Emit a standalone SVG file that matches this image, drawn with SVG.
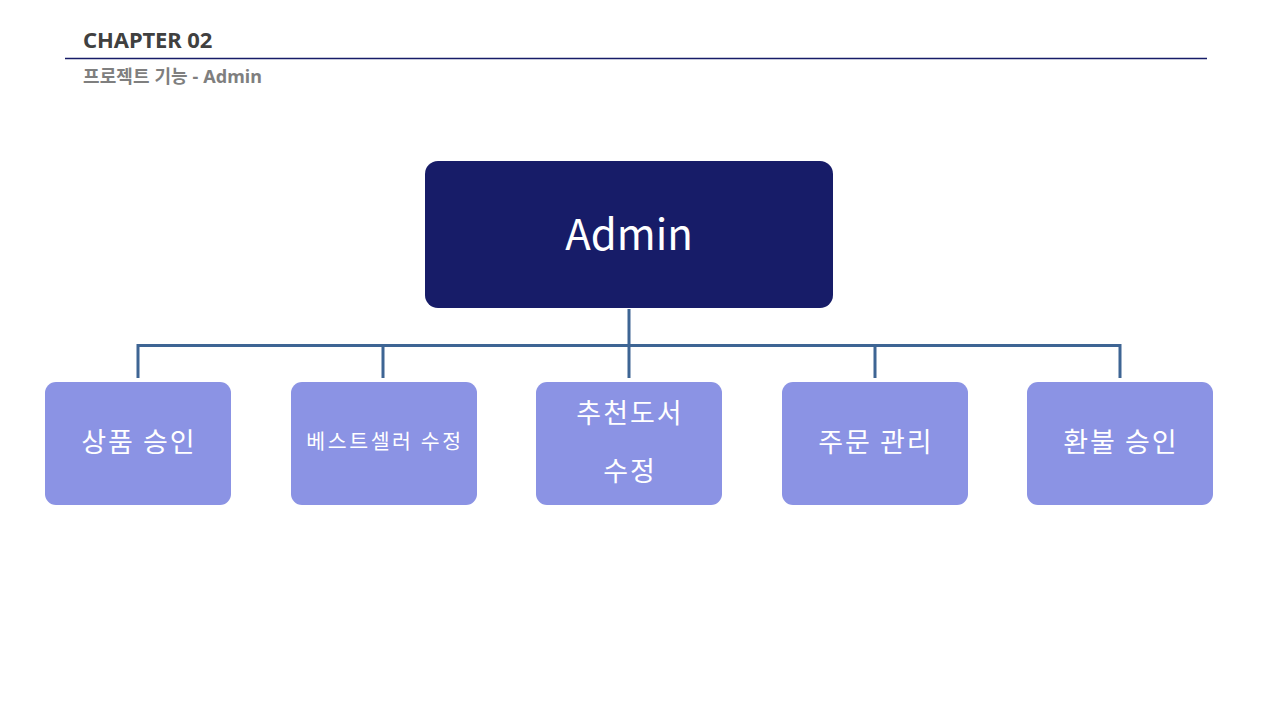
<svg xmlns="http://www.w3.org/2000/svg" width="1280" height="720" viewBox="0 0 1280 720">
<style>
.hdr{font-family:"Noto Sans","Noto Sans CJK KR",sans-serif;font-weight:700}
.child rect{fill:#8b93e4}
.child text,.root text{font-family:"Noto Sans CJK KR","Noto Sans",sans-serif;fill:#ffffff;text-anchor:middle}
.child text{letter-spacing:2px}
.conn{stroke:#3e6594;stroke-width:3;fill:none}
</style>
<rect width="1280" height="720" fill="#ffffff"/>
<g id="header">
<text class="hdr" x="83" y="48" font-size="22" fill="#404040" letter-spacing="-0.1">CHAPTER 02</text>
<line x1="65" y1="58.5" x2="1207" y2="58.5" stroke="#171c68" stroke-width="1.3"/>
<text class="hdr" x="83" y="83" font-size="18" fill="#7f7f7f" letter-spacing="0.1">프로젝트 기능 - Admin</text>
</g>
<g id="connectors">
<path class="conn" d="M629 309 V378 M138 378 V345.5 H1120 V378 M383 345.5 V378 M875 345.5 V378"/>
</g>
<g id="admin" class="root">
<rect x="425" y="161" width="408" height="147" rx="13" fill="#171c68"/>
<text x="629" y="250" font-size="42">Admin</text>
</g>
<g id="n1" class="child">
<rect x="45" y="382" width="186" height="123" rx="11"/>
<text x="139" y="452" font-size="27">상품 승인</text>
</g>
<g id="n2" class="child">
<rect x="291" y="382" width="186" height="123" rx="11"/>
<text x="385" y="449" font-size="20.5" style="letter-spacing:2.6px">베스트셀러 수정</text>
</g>
<g id="n3" class="child">
<rect x="536" y="382" width="186" height="123" rx="11"/>
<text x="630" y="423" font-size="27">추천도서</text>
<text x="630" y="481" font-size="27">수정</text>
</g>
<g id="n4" class="child">
<rect x="782" y="382" width="186" height="123" rx="11"/>
<text x="876" y="452" font-size="27">주문 관리</text>
</g>
<g id="n5" class="child">
<rect x="1027" y="382" width="186" height="123" rx="11"/>
<text x="1121" y="452" font-size="27">환불 승인</text>
</g>
</svg>
